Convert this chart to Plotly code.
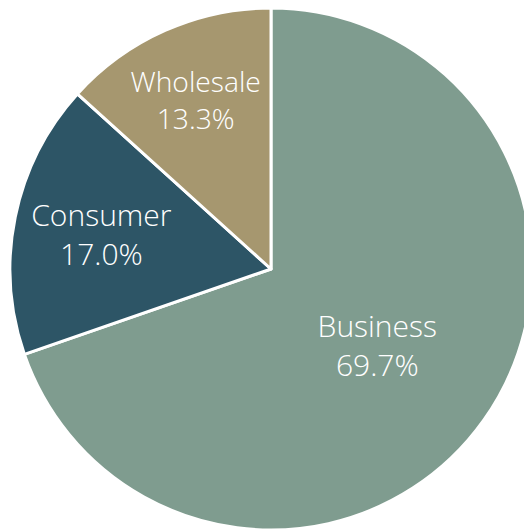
import plotly.graph_objects as go

labels = ["Business", "Consumer", "Wholesale"]
values = [69.7, 17.0, 13.3]
colors = ["#7F9C8F", "#2D5566", "#A6976F"]

fig = go.Figure(go.Pie(
    labels=labels,
    values=values,
    sort=False,
    direction="clockwise",
    rotation=0,
    marker=dict(colors=colors, line=dict(color="white", width=3)),
    texttemplate="%{label}<br>%{percent:.1%}",
    textposition="inside",
    insidetextorientation="horizontal",
    textfont=dict(color="white", size=30, family="Open Sans", weight=300),
    showlegend=False,
    hoverinfo="skip",
))
fig.update_layout(
    width=532, height=530,
    margin=dict(l=2, r=8, t=0, b=8),
    paper_bgcolor="white",
    plot_bgcolor="white",
)
fig.write_html("out.html")
